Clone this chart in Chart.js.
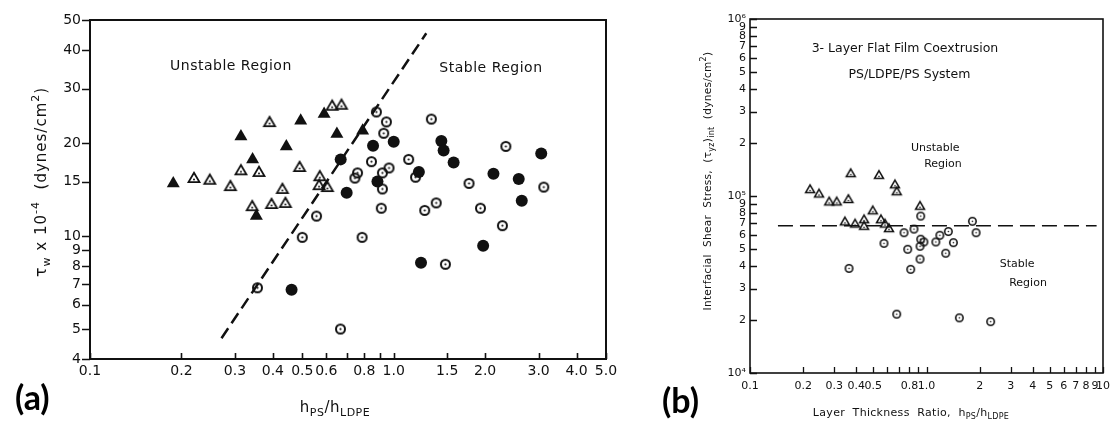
<!DOCTYPE html>
<html>
<head>
<meta charset="utf-8">
<script src="https://cdn.jsdelivr.net/npm/chart.js@4.4.1/dist/chart.umd.min.js"></script>
<style>
  html, body { margin: 0; padding: 0; background: #fff; overflow: hidden; }
  body { width: 1110px; height: 423px; position: relative; }
  canvas { position: absolute; top: 0; }
  #chartA { left: 0; }
  #chartB { left: 640px; }
  .tag { position: absolute; font: bold 34px Lato, "Open Sans", sans-serif; color: #000; line-height: 1; }
</style>
</head>
<body>
<canvas id="chartA" width="640" height="423"></canvas>
<canvas id="chartB" width="480" height="423"></canvas>
<div class="tag" style="left:15px; top:380px">(a)</div>
<div class="tag" style="left:662px; top:383px">(b)</div>
<script>
// ---- panel (a): tau_w x 1e-4 (dynes/cm2) against h_PS/h_LDPE ----
const aFilledCircles = [
  [0.461, 6.7], [0.669, 17.7], [0.70, 13.8], [0.855, 19.6], [0.884, 15.0], [1.0, 20.2],
  [1.21, 16.1], [1.23, 8.2], [1.435, 20.3], [1.46, 18.9], [1.575, 17.3], [1.97, 9.3],
  [2.13, 15.9], [2.58, 15.3], [2.64, 13.0], [3.06, 18.5]
];
const aOpenCircles = [
  [0.356, 6.8], [0.50, 9.9], [0.557, 11.6], [0.668, 5.0], [0.745, 15.4], [0.76, 16.0],
  [0.787, 9.9], [0.845, 17.4], [0.877, 25.2], [0.91, 12.3], [0.918, 14.2], [0.918, 16.0],
  [0.927, 21.5], [0.946, 23.4], [0.965, 16.6], [1.12, 17.7], [1.18, 15.5], [1.265, 12.1],
  [1.33, 23.9], [1.38, 12.8], [1.48, 8.1], [1.77, 14.8], [1.93, 12.3], [2.28, 10.8],
  [2.34, 19.5], [3.12, 14.4]
];
const aFilledTriangles = [
  [0.188, 14.8], [0.314, 21.0], [0.343, 17.7], [0.353, 11.6], [0.443, 19.5],
  [0.494, 23.6], [0.59, 24.8], [0.65, 21.4], [0.79, 21.9]
];
const aOpenTriangles = [
  [0.22, 15.3], [0.248, 15.1], [0.29, 14.4], [0.314, 16.2], [0.342, 12.4], [0.36, 16.0],
  [0.39, 23.2], [0.396, 12.6], [0.43, 14.1], [0.44, 12.7], [0.49, 16.6], [0.568, 14.5],
  [0.571, 15.5], [0.605, 14.3], [0.627, 26.2], [0.673, 26.4]
];
const aBoundary = [[0.271, 4.67], [1.28, 45.3]];
const aXTicks = [0.1, 0.2, 0.3, 0.4, 0.5, 0.6, 0.7, 0.8, 0.9, 1, 1.5, 2, 3, 4, 5];
const aXLabels = ['0.1', '0.2', '0.3', '0.4', '0.5', '0.6', '', '0.8', '', '1.0', '1.5', '2.0', '3.0', '4.0', '5.0'];
const aYTicks = [4, 5, 6, 7, 8, 9, 10, 15, 20, 30, 40, 50];
const aYLabels = ['4', '5', '6', '7', '8', '9', '10', '15', '20', '30', '40', '50'];

// ---- panel (b): interfacial shear stress against layer thickness ratio ----
const bOpenCircles = [
  [0.364, 3.9e4], [0.574, 5.4e4], [0.678, 2.15e4], [0.746, 6.2e4], [0.783, 5.0e4],
  [0.814, 3.85e4], [0.849, 6.5e4], [0.919, 4.4e4], [0.919, 5.2e4], [0.927, 5.7e4],
  [0.927, 7.7e4], [0.967, 5.5e4], [1.13, 5.5e4], [1.19, 6.0e4], [1.285, 4.75e4],
  [1.33, 6.3e4], [1.42, 5.45e4], [1.535, 2.05e4], [1.82, 7.2e4], [1.91, 6.2e4], [2.31, 1.95e4]
];
const bOpenTriangles = [
  [0.219, 1.08e5], [0.246, 1.02e5], [0.281, 9.2e4], [0.31, 9.2e4], [0.345, 7.1e4],
  [0.361, 9.5e4], [0.372, 1.33e5], [0.394, 6.9e4], [0.443, 7.3e4], [0.443, 6.7e4],
  [0.496, 8.2e4], [0.538, 1.30e5], [0.552, 7.3e4], [0.582, 6.9e4], [0.613, 6.5e4],
  [0.663, 1.15e5], [0.678, 1.05e5], [0.919, 8.7e4]
];
const bBoundary = [[0.144, 6.8e4], [9.2, 6.8e4]];
const bXTicks = [0.1, 0.2, 0.3, 0.4, 0.5, 0.6, 0.7, 0.8, 0.9, 1, 2, 3, 4, 5, 6, 7, 8, 9, 10];
const bXLabels = ['0.1', '0.2', '0.3', '0.4', '0.5', '', '', '0.8', '', '1.0', '2', '3', '4', '5', '6', '7', '8', '9', '10'];
const bYTicks = [1e4, 2e4, 3e4, 4e4, 5e4, 6e4, 7e4, 8e4, 9e4, 1e5, 2e5, 3e5, 4e5, 5e5, 6e5, 7e5, 8e5, 9e5, 1e6];
const bYLabels = ['10⁴', '2', '3', '4', '5', '6', '7', '8', '9', '10⁵', '2', '3', '4', '5', '6', '7', '8', '9', '10⁶'];

const FAMILY = '"DejaVu Sans", sans-serif';
const INK = '#111';

const xy = pairs => pairs.map(([x, y]) => ({ x, y }));

// open circle with a centre dot, used as an image point style
function ringDot(d, lw, dot) {
  const s = Math.ceil(d) + 2;
  const c = document.createElement('canvas');
  c.width = c.height = s;
  const g = c.getContext('2d');
  g.strokeStyle = g.fillStyle = INK;
  g.lineWidth = lw;
  g.beginPath();
  g.arc(s / 2, s / 2, d / 2 - lw / 2, 0, Math.PI * 2);
  g.stroke();
  g.beginPath();
  g.arc(s / 2, s / 2, dot, 0, Math.PI * 2);
  g.fill();
  return c;
}

// open triangle with a centre dot, centroid at the middle of the canvas
function triDot(w, lw, dot) {
  const s = Math.ceil(w) + 4;
  const c = document.createElement('canvas');
  c.width = c.height = s;
  const g = c.getContext('2d');
  const side = w - lw * 1.7;
  const h = side * Math.sqrt(3) / 2;
  const cx = s / 2, cy = s / 2;
  g.strokeStyle = g.fillStyle = INK;
  g.lineWidth = lw;
  g.lineJoin = 'miter';
  g.beginPath();
  g.moveTo(cx, cy - h * 2 / 3);
  g.lineTo(cx + side / 2, cy + h / 3);
  g.lineTo(cx - side / 2, cy + h / 3);
  g.closePath();
  g.stroke();
  g.beginPath();
  g.arc(cx, cy + 0.5, dot, 0, Math.PI * 2);
  g.fill();
  return c;
}

// text made of runs with their own size and baseline shift (sub/superscripts)
function rich(ctx, segs, x, y, rot, spacing) {
  ctx.save();
  ctx.translate(x, y);
  ctx.rotate(rot || 0);
  ctx.fillStyle = INK;
  ctx.textAlign = 'left';
  ctx.textBaseline = 'alphabetic';
  if ('letterSpacing' in ctx) ctx.letterSpacing = (spacing || 0) + 'px';
  let w = 0;
  for (const [t, size] of segs) {
    ctx.font = size + 'px ' + FAMILY;
    w += ctx.measureText(t).width;
  }
  let cx = -w / 2;
  const base = segs[0][1] * 0.36;
  for (const [t, size, dy] of segs) {
    ctx.font = size + 'px ' + FAMILY;
    ctx.fillText(t, cx, base + (dy || 0));
    cx += ctx.measureText(t).width;
  }
  ctx.restore();
}

// box round the plot area plus the tick marks
const frame = {
  id: 'frame',
  afterDraw(chart, args, opts) {
    const { ctx, chartArea: a, scales } = chart;
    ctx.save();
    ctx.strokeStyle = INK;
    ctx.lineWidth = opts.lineWidth;
    ctx.strokeRect(a.left, a.top, a.right - a.left, a.bottom - a.top);
    ctx.lineWidth = opts.tickWidth;
    ctx.beginPath();
    for (const t of scales.x.ticks) {
      const px = Math.round(scales.x.getPixelForValue(t.value)) + 0.5;
      ctx.moveTo(px, a.bottom);
      ctx.lineTo(px, a.bottom - opts.xTick);
    }
    for (const t of scales.y.ticks) {
      const py = Math.round(scales.y.getPixelForValue(t.value)) + 0.5;
      ctx.moveTo(a.left, py);
      ctx.lineTo(a.left + opts.yTick, py);
    }
    ctx.stroke();
    ctx.restore();
  }
};

// region labels in data space, axis titles in canvas space
const notes = {
  id: 'notes',
  afterDraw(chart, args, opts) {
    const { ctx, scales } = chart;
    for (const n of opts.labels) {
      rich(ctx, [[n.text, n.size]], scales.x.getPixelForValue(n.x), scales.y.getPixelForValue(n.y), 0, n.spacing);
    }
    for (const t of opts.titles) rich(ctx, t.segs, t.x, t.y, t.rot, t.spacing);
  }
};

function logAxis(min, max, ticks, labels, size, padding, fit) {
  return {
    type: 'logarithmic',
    min, max,
    afterBuildTicks: s => { s.ticks = ticks.map(v => ({ value: v })); },
    afterFit: fit,
    grid: { display: false, drawTicks: false },
    border: { display: false },
    ticks: {
      autoSkip: false, maxRotation: 0, minRotation: 0, padding,
      color: INK, font: { family: FAMILY, size },
      callback: (v, i) => labels[i]
    }
  };
}

function base(padding, x, y, frameOpts, noteOpts) {
  return {
    responsive: false,
    animation: false,
    events: [],
    layout: { padding },
    plugins: { legend: { display: false }, tooltip: { enabled: false }, frame: frameOpts, notes: noteOpts },
    scales: { x, y }
  };
}

new Chart(document.getElementById('chartA'), {
  type: 'scatter',
  plugins: [frame, notes],
  data: {
    datasets: [
      { data: xy(aFilledCircles), pointStyle: 'circle', pointRadius: 6, pointBackgroundColor: INK, pointBorderColor: INK, pointBorderWidth: 0 },
      { data: xy(aFilledTriangles), pointStyle: 'triangle', pointRadius: 7.5, pointBackgroundColor: INK, pointBorderColor: INK, pointBorderWidth: 0 },
      { data: xy(aOpenCircles), pointStyle: ringDot(11, 2, 1.1), pointRadius: 6 },
      { data: xy(aOpenTriangles), pointStyle: triDot(14, 1.8, 1), pointRadius: 7 },
      { data: xy(aBoundary), showLine: true, borderColor: INK, borderWidth: 2.5, borderDash: [12, 6], pointRadius: 0 }
    ]
  },
  options: base(
    { left: 0, top: 20, right: 34, bottom: 24 },
    logAxis(0.1, 5, aXTicks, aXLabels, 14, 4, s => { s.height = 40; }),
    logAxis(4, 50, aYTicks, aYLabels, 14, 9, s => { s.width = 90; }),
    { lineWidth: 2, tickWidth: 1.6, xTick: 6, yTick: -8 },
    {
      labels: [
        { text: 'Unstable Region', x: 0.291, y: 35.8, size: 14, spacing: 0.5 },
        { text: 'Stable Region', x: 2.09, y: 35.2, size: 14, spacing: 0.5 }
      ],
      titles: [
        { segs: [['τ', 16], ['w', 11, 4], [' x 10', 15], ['-4', 11, -7], ['  (dynes/cm', 15], ['2', 11, -7], [')', 15]],
          x: 40, y: 182, rot: -Math.PI / 2, spacing: 1 },
        { segs: [['h', 15], ['PS', 11, 4], ['/', 15], ['h', 15], ['LDPE', 11, 4]], x: 335, y: 407, rot: 0, spacing: 0.5 }
      ]
    }
  )
});

new Chart(document.getElementById('chartB'), {
  type: 'scatter',
  plugins: [frame, notes],
  data: {
    datasets: [
      { data: xy(bOpenCircles), pointStyle: ringDot(9, 1.6, 0.8), pointRadius: 5 },
      { data: xy(bOpenTriangles), pointStyle: triDot(11.5, 1.5, 0.8), pointRadius: 6 },
      { data: xy(bBoundary), showLine: true, borderColor: INK, borderWidth: 1.5, borderDash: [15, 7], pointRadius: 0 }
    ]
  },
  options: base(
    { left: 0, top: 19, right: 17, bottom: 20 },
    logAxis(0.1, 10, bXTicks, bXLabels, 11, 7, s => { s.height = 30; }),
    logAxis(1e4, 1e6, bYTicks, bYLabels, 11, 4, s => { s.width = 110; }),
    { lineWidth: 1.6, tickWidth: 1.3, xTick: 6, yTick: 7 },
    {
      labels: [
        { text: '3- Layer Flat Film Coextrusion', x: 0.755, y: 6.86e5, size: 12.5 },
        { text: 'PS/LDPE/PS System', x: 0.8, y: 4.95e5, size: 12.5 },
        { text: 'Unstable', x: 1.12, y: 1.89e5, size: 11 },
        { text: 'Region', x: 1.24, y: 1.54e5, size: 11 },
        { text: 'Stable', x: 3.26, y: 4.18e4, size: 11 },
        { text: 'Region', x: 3.76, y: 3.27e4, size: 11 }
      ],
      titles: [
        { segs: [['Interfacial  Shear  Stress,  (τ', 10.5], ['yz', 8, 3], [')', 10.5], ['int', 8, 3], ['  (dynes/cm', 10.5], ['2', 8, -5], [')', 10.5]],
          x: 67, y: 181, rot: -Math.PI / 2, spacing: 0.3 },
        { segs: [['Layer  Thickness  Ratio,  h', 11], ['PS', 8, 3], ['/h', 11], ['LDPE', 8, 3]], x: 271, y: 412, rot: 0, spacing: 0.3 }
      ]
    }
  )
});
</script>
</body>
</html>
